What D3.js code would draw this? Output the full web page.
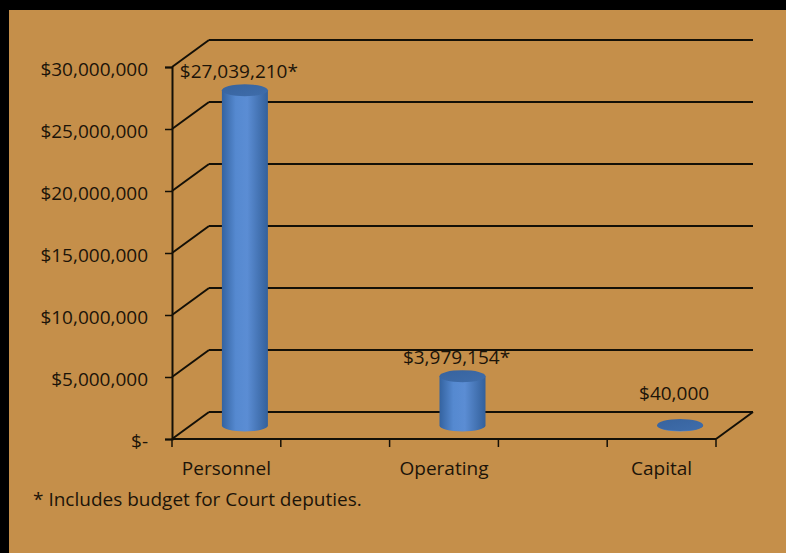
<!DOCTYPE html>
<html>
<head>
<meta charset="utf-8">
<script src="https://cdn.jsdelivr.net/npm/d3@7"></script>
<style>
  html, body { margin: 0; padding: 0; background: #000; }
  svg { display: block; }
  text { font-family: "Open Sans", sans-serif; fill: #1c1409; }
</style>
</head>
<body>
<div id="chart"></div>
<script>
// chart data
var categories = ['Personnel', 'Operating', 'Capital'];
var values = [27039210, 3979154, 40000];
var valueLabels = ['$27,039,210*', '$3,979,154*', '$40,000'];
var yTicks = [0, 5000000, 10000000, 15000000, 20000000, 25000000, 30000000];
var footnote = '* Includes budget for Court deputies.';

var W = 786, H = 553;
var depth = {x: 37, y: -27};   // 3d offset of the back wall
var fontSize = '19px';

var svg = d3.select('#chart').append('svg')
    .attr('width', W)
    .attr('height', H);

// orange panel on black
svg.append('rect').attr('width', W).attr('height', H).attr('fill', '#000');
svg.append('rect')
    .attr('x', 9).attr('y', 10)
    .attr('width', W - 9).attr('height', H - 10)
    .attr('fill', '#c58f4a');

var x = d3.scalePoint().domain(categories).range([172, 716]).padding(0.25),
    y = d3.scaleLinear().domain([0, 30000000]).range([439, 67]);

var fmt = function(d) { return d === 0 ? '$-' : '$' + d3.format(',')(d); };

var defs = svg.append('defs');
var body = defs.append('linearGradient').attr('id', 'cylBody')
    .attr('x1', 0).attr('x2', 1).attr('y1', 0).attr('y2', 0);
body.append('stop').attr('offset', 0).attr('stop-color', '#3463a0');
body.append('stop').attr('offset', 0.3).attr('stop-color', '#5589d0');
body.append('stop').attr('offset', 0.55).attr('stop-color', '#5b8dd4');
body.append('stop').attr('offset', 1).attr('stop-color', '#33609b');
var top_ = defs.append('linearGradient').attr('id', 'cylTop')
    .attr('x1', 0).attr('x2', 1).attr('y1', 0).attr('y2', 1);
top_.append('stop').attr('offset', 0).attr('stop-color', '#37639e');
top_.append('stop').attr('offset', 1).attr('stop-color', '#3f6dab');

var grid = svg.append('g')
    .attr('fill', 'none')
    .attr('stroke', '#141007')
    .attr('stroke-width', 2);

// back wall lines + left wall diagonals
yTicks.forEach(function(t) {
    grid.append('line')
        .attr('x1', 172 + depth.x).attr('y1', y(t) + depth.y)
        .attr('x2', 716 + depth.x).attr('y2', y(t) + depth.y);
    grid.append('line')
        .attr('x1', 172).attr('y1', y(t))
        .attr('x2', 172 + depth.x).attr('y2', y(t) + depth.y);
});

// floor front edge and right edge
grid.append('line').attr('x1', 172).attr('y1', y(0)).attr('x2', 716).attr('y2', y(0));
grid.append('line').attr('x1', 716).attr('y1', y(0))
    .attr('x2', 716 + depth.x).attr('y2', y(0) + depth.y);

// y axis
var yAxis = svg.append('g')
    .attr('transform', 'translate(172,0)')
    .call(d3.axisLeft(y).tickValues(yTicks).tickFormat(fmt).tickSize(7).tickPadding(17));
yAxis.select('.domain').attr('stroke', '#141007').attr('stroke-width', 2);
yAxis.selectAll('.tick line').attr('stroke', '#141007').attr('stroke-width', 1.5);
yAxis.selectAll('.tick text')
    .attr('font-size', fontSize)
    .attr('dy', '0.45em')
    .style('font-family', '"Open Sans", sans-serif')
    .attr('fill', '#1c1409');

// x axis ticks, half a step either side of each category
var step = x.step();
var xTicks = [];
categories.forEach(function(c) { xTicks.push(x(c) - step / 4, x(c) + step / 4); });
svg.append('g').selectAll('line')
    .data(xTicks)
    .enter().append('line')
    .attr('x1', function(d) { return d; })
    .attr('x2', function(d) { return d; })
    .attr('y1', y(0))
    .attr('y2', y(0) + 8)
    .attr('stroke', '#141007')
    .attr('stroke-width', 1.5);

// category labels
svg.append('g').selectAll('text')
    .data(categories)
    .enter().append('text')
    .attr('x', function(d) { return x(d); })
    .attr('y', 475)
    .attr('text-anchor', 'middle')
    .attr('font-size', fontSize)
    .text(function(d) { return d; });

// cylinders, standing at mid depth
var rx = 23, ry = 6;
var zeroY = y(0) + depth.y / 2;
var bars = svg.append('g').selectAll('.bar')
    .data(values)
    .enter().append('g')
    .attr('class', 'bar');

bars.append('path')
    .attr('fill', 'url(#cylBody)')
    .attr('d', function(d, i) {
        var cx = x(categories[i]) + depth.x / 2,
            yt = y(d) + depth.y / 2;
        return 'M' + (cx - rx) + ',' + yt +
            'L' + (cx - rx) + ',' + zeroY +
            'A' + rx + ',' + ry + ' 0 0 0 ' + (cx + rx) + ',' + zeroY +
            'L' + (cx + rx) + ',' + yt + 'Z';
    });

bars.append('ellipse')
    .attr('cx', function(d, i) { return x(categories[i]) + depth.x / 2; })
    .attr('cy', function(d) { return y(d) + depth.y / 2; })
    .attr('rx', rx)
    .attr('ry', ry)
    .attr('fill', 'url(#cylTop)');

// value labels, kept above the floor
bars.append('text')
    .attr('x', function(d, i) { return x(categories[i]) + depth.x / 2 - 6; })
    .attr('y', function(d) {
        return Math.min(y(d) + depth.y / 2 - 12, y(0) + depth.y - 12);
    })
    .attr('text-anchor', 'middle')
    .attr('font-size', fontSize)
    .text(function(d, i) { return valueLabels[i]; });

// footnote
svg.append('text')
    .attr('x', 33)
    .attr('y', 506)
    .attr('font-size', fontSize)
    .text(footnote);
</script>
</body>
</html>
